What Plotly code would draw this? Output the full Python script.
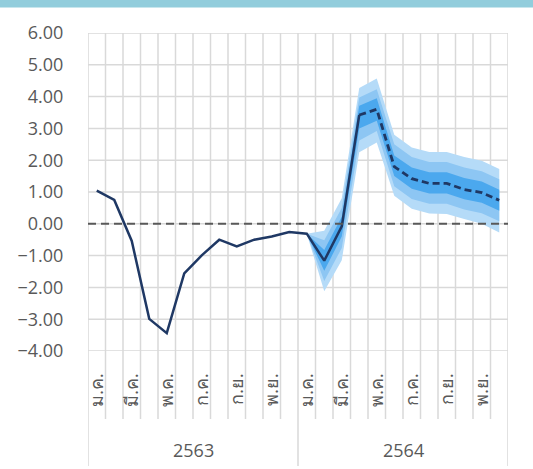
import plotly.graph_objects as go

# ---- data ----
years = ["2563", "2564"]
month_labels = ["ม.ค.", "มี.ค.", "พ.ค.", "ก.ค.", "ก.ย.", "พ.ย."]
n_months = 24

actual = [1.04, 0.75, -0.54, -2.99, -3.44, -1.56, -0.99, -0.50, -0.71, -0.50, -0.40, -0.26,
          -0.31, -1.16, -0.08, 3.42]
forecast = [3.42, 3.60, 1.80, 1.42, 1.27, 1.27, 1.08, 0.98, 0.74]

band_x = [12, 13, 14, 15, 16, 17, 18, 19, 20, 21, 22, 23]
out_hi = [-0.31, -0.22, 0.80, 4.27, 4.57, 2.80, 2.40, 2.26, 2.26, 2.10, 1.98, 1.72]
mid_hi = [-0.31, -0.52, 0.50, 3.97, 4.23, 2.50, 2.10, 1.94, 1.94, 1.77, 1.65, 1.40]
in_hi = [-0.31, -0.82, 0.22, 3.71, 3.95, 2.15, 1.77, 1.62, 1.62, 1.44, 1.33, 1.07]
in_lo = [-0.31, -1.48, -0.40, 3.00, 3.24, 1.50, 1.10, 0.95, 0.95, 0.77, 0.66, 0.41]
mid_lo = [-0.31, -1.80, -0.76, 2.62, 2.92, 1.18, 0.78, 0.63, 0.63, 0.45, 0.33, 0.08]
out_lo = [-0.31, -2.12, -1.15, 2.25, 2.56, 0.88, 0.47, 0.32, 0.31, 0.15, 0.00, -0.27]

y_ticks = [-4, -3, -2, -1, 0, 1, 2, 3, 4, 5, 6]

# ---- style ----
NAVY = "#1f3864"
C_OUT = "#b5dbf8"
C_MID = "#8dc6f3"
C_IN = "#4ba8ee"
GRID = "#d9d9d9"
TXT = "#595959"
FONT = "Open Sans"

ML, MR, MT, MB = 88, 25, 33, 118
W, H = 533, 469
plot_h = H - MT - MB
plot_w = W - ML - MR

fig = go.Figure()

def band(hi, lo, color):
    fig.add_trace(go.Scatter(
        x=band_x + band_x[::-1], y=hi + lo[::-1],
        fill="toself", fillcolor=color, line=dict(width=0, color=color),
        mode="lines", hoverinfo="skip", showlegend=False))

band(out_hi, out_lo, C_OUT)
band(mid_hi, mid_lo, C_MID)
band(in_hi, in_lo, C_IN)

fig.add_trace(go.Scatter(x=list(range(len(actual))), y=actual, mode="lines",
                         line=dict(color=NAVY, width=2.5), showlegend=False))
fc_start = len(actual) - 1
fig.add_trace(go.Scatter(x=list(range(fc_start, fc_start + len(forecast))), y=forecast,
                         mode="lines", line=dict(color=NAVY, width=2.8, dash="7px,4px"),
                         showlegend=False))

shapes = []
# horizontal gridlines
for v in y_ticks:
    shapes.append(dict(type="line", xref="paper", yref="y", x0=0, x1=1, y0=v, y1=v,
                       line=dict(color=GRID, width=1.5), layer="below"))
# vertical category boundaries (extend into label area)
month_bottom = -(419 - (H - MB)) / plot_h
year_bottom = -(466 - (H - MB)) / plot_h
for i in range(n_months + 1):
    is_year = (i % 12 == 0)
    shapes.append(dict(type="line", xref="x", yref="paper", x0=i - 0.5, x1=i - 0.5,
                       y0=1, y1=year_bottom if is_year else month_bottom,
                       line=dict(color=GRID, width=1.5), layer="below"))
# zero dashed line
shapes.append(dict(type="line", xref="paper", yref="y", x0=0, x1=1, y0=0, y1=0,
                   line=dict(color=TXT, width=2, dash="8px,5px"), layer="above"))
# top bar
shapes.append(dict(type="rect", xref="paper", yref="paper",
                   x0=-ML / plot_w, x1=1 + MR / plot_w,
                   y0=1 + (MT - 7.5) / plot_h, y1=1 + MT / plot_h + 0.01,
                   fillcolor="#92cddc", line=dict(width=0)))

annotations = []
for k, yr in enumerate(years):
    annotations.append(dict(x=k * 12 + 5.5, xref="x", y=-(450 - (H - MB)) / plot_h, yref="paper",
                            text=yr, showarrow=False, font=dict(family=FONT, size=18, color=TXT),
                            yanchor="middle"))

fig.update_layout(
    template="none",
    width=W, height=H,
    margin=dict(l=ML, r=MR, t=MT, b=MB, pad=0),
    paper_bgcolor="white", plot_bgcolor="white",
    shapes=shapes, annotations=annotations,
    xaxis=dict(range=[-0.5, n_months - 0.5], showgrid=False, zeroline=False,
               tickmode="array", tickvals=list(range(0, n_months, 2)),
               ticktext=month_labels * 2, tickangle=-90,
               ticks="outside", ticklen=14, tickcolor="rgba(0,0,0,0)",
               tickfont=dict(family=FONT, size=18, color=TXT),
               showline=False, automargin=False),
    yaxis=dict(range=[-4, 6], tickmode="array", tickvals=y_ticks,
               tickformat=".2f", showgrid=False, zeroline=False,
               ticks="outside", ticklen=20, tickcolor="rgba(0,0,0,0)", showline=False,
               tickfont=dict(family=FONT, size=18, color=TXT), automargin=False),
    hovermode=False,
)

fig.write_html("out.html", config={"displayModeBar": False, "staticPlot": True},
               post_script="document.body.style.margin='0';")
